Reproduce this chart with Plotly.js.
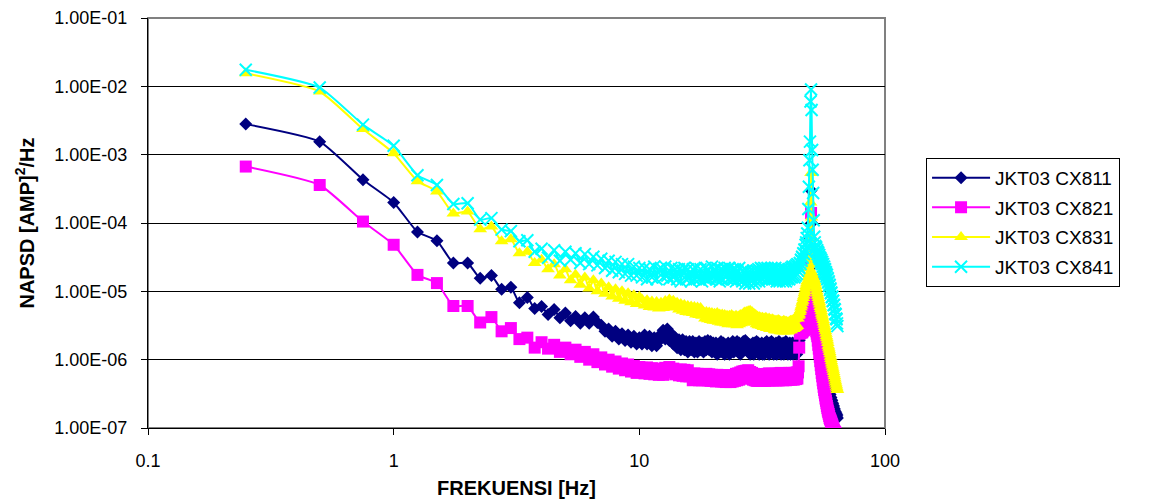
<!DOCTYPE html>
<html>
<head>
<meta charset="utf-8">
<script src="https://cdn.plot.ly/plotly-3.0.1.min.js"></script>
<style>html,body{margin:0;padding:0;background:#fff;}#chart{width:1152px;height:504px;}</style>
</head>
<body>
<div id="chart"></div>
<script>
// Frequency (Hz)
const freq = [
0.25,0.5,0.75,1,1.25,1.5,1.75,2,2.25,2.5,2.75,3,3.25,3.5,3.75,4,
4.25,4.5,4.75,5,5.25,5.5,5.75,6,6.25,6.5,6.75,7,7.25,7.5,7.75,8,
8.25,8.5,8.75,9,9.25,9.5,9.75,10,10.25,10.5,10.75,11,11.25,11.5,11.75,12,
12.25,12.5,12.75,13,13.25,13.5,13.75,14,14.25,14.5,14.75,15,15.25,15.5,15.75,16,
16.25,16.5,16.75,17,17.25,17.5,17.75,18,18.25,18.5,18.75,19,19.25,19.5,19.75,20,
20.25,20.5,20.75,21,21.25,21.5,21.75,22,22.25,22.5,22.75,23,23.25,23.5,23.75,24,
24.25,24.5,24.75,25,25.25,25.5,25.75,26,26.25,26.5,26.75,27,27.25,27.5,27.75,28,
28.25,28.5,28.75,29,29.25,29.5,29.75,30,30.25,30.5,30.75,31,31.25,31.5,31.75,32,
32.25,32.5,32.75,33,33.25,33.5,33.75,34,34.25,34.5,34.75,35,35.25,35.5,35.75,36,
36.25,36.5,36.75,37,37.25,37.5,37.75,38,38.25,38.5,38.75,39,39.25,39.5,39.75,40,
40.25,40.5,40.75,41,41.25,41.5,41.75,42,42.25,42.5,42.75,43,43.25,43.5,43.75,44,
44.25,44.5,44.75,45,45.25,45.5,45.75,46,46.25,46.5,46.75,47,47.25,47.5,47.75,48,
48.25,48.5,48.75,49,49.25,49.5,49.75,50,50.25,50.5,50.75,51,51.25,51.5,51.75,52,
52.25,52.5,52.75,53,53.25,53.5,53.75,54,54.25,54.5,54.75,55,55.25,55.5,55.75,56,
56.25,56.5,56.75,57,57.25,57.5,57.75,58,58.25,58.5,58.75,59,59.25,59.5,59.75,60,
60.25,60.5,60.75,61,61.25,61.5,61.75,62,62.25,62.5,62.75,63,63.25,63.5,63.75,64
];

const cx811 = [
2.8e-3,1.55e-3,4.3e-4,2.0e-4,7.4e-5,5.5e-5,2.6e-5,2.6e-5,1.55e-5,1.7e-5,1.07e-5,1.15e-5,6.8e-6,8.1e-6,5.6e-6,
6.0e-6,4.6e-6,5.4e-6,4.1e-6,4.8e-6,3.7e-6,4.3e-6,3.4e-6,4.1e-6,3.4e-6,4.2e-6,3.5e-6,3.2e-6,2.6e-6,2.8e-6,2.2e-6,2.6e-6,2.0e-6,2.4e-6,1.9e-6,2.3e-6,1.8e-6,2.2e-6,1.7e-6,2.1e-6,
1.7e-6,2.3e-6,1.7e-6,2.2e-6,1.6e-6,2.1e-6,1.6e-6,2.2e-6,
2.0e-6,2.7e-6,2.0e-6,2.8e-6,1.9e-6,2.4e-6,1.7e-6,2.1e-6,
1.5e-6,1.95e-6,1.4e-6,1.95e-6,1.4e-6,1.85e-6,1.3e-6,1.85e-6,
1.4e-6,1.85e-6,1.3e-6,1.75e-6,1.3e-6,1.85e-6,1.4e-6,1.75e-6,
1.3e-6,1.85e-6,1.4e-6,1.9e-6,1.4e-6,1.85e-6,1.3e-6,1.75e-6,
1.3e-6,1.75e-6,1.2e-6,1.65e-6,1.3e-6,1.85e-6,1.3e-6,1.75e-6,
1.2e-6,1.65e-6,1.3e-6,1.75e-6,1.2e-6,1.65e-6,1.3e-6,1.85e-6,
1.3e-6,1.75e-6,1.4e-6,1.85e-6,1.3e-6,1.75e-6,1.2e-6,1.65e-6,
1.3e-6,1.85e-6,1.4e-6,1.9e-6,1.4e-6,1.75e-6,1.3e-6,1.65e-6,
1.2e-6,1.65e-6,1.3e-6,1.75e-6,1.2e-6,1.75e-6,1.3e-6,1.85e-6,
1.3e-6,1.75e-6,1.2e-6,1.65e-6,1.3e-6,1.75e-6,1.2e-6,1.65e-6,
1.2e-6,1.75e-6,1.3e-6,1.85e-6,1.3e-6,1.65e-6,1.2e-6,1.75e-6,
1.3e-6,1.85e-6,1.4e-6,1.75e-6,1.2e-6,1.65e-6,1.3e-6,1.75e-6,
1.2e-6,1.65e-6,1.3e-6,1.85e-6,1.3e-6,1.75e-6,1.2e-6,1.65e-6,
1.3e-6,1.75e-6,1.2e-6,1.65e-6,1.3e-6,1.85e-6,1.3e-6,1.75e-6,
1.2e-6,1.65e-6,1.3e-6,1.75e-6,1.2e-6,1.65e-6,1.3e-6,1.75e-6,
1.2e-6,1.65e-6,1.3e-6,1.75e-6,1.3e-6,1.65e-6,1.2e-6,1.6e-6,
1.5e-6,1.7e-6,1.9e-6,
2.1e-6,2.2e-6,2.3e-6,2.4e-6,2.5e-6,2.6e-6,2.7e-6,2.8e-6,2.9e-6,3.0e-6,3.1e-6,3.3e-6,3.5e-6,3.8e-6,4.2e-6,5.0e-6,7.0e-6,1.2e-5,2.5e-5,6.0e-5,
3.0e-4,
1.0e-4,4.0e-5,3.5e-5,2.5e-5,1.5e-5,9.0e-6,6.0e-6,4.5e-6,
3.6e-6,3.0e-6,2.6e-6,2.3e-6,2.1e-6,1.9e-6,1.75e-6,1.6e-6,
1.5e-6,1.35e-6,1.3e-6,1.15e-6,1.1e-6,9.5e-7,9.2e-7,8.2e-7,
7.8e-7,6.9e-7,6.6e-7,5.8e-7,5.7e-7,5.0e-7,5.0e-7,4.4e-7,
4.4e-7,3.9e-7,3.9e-7,3.5e-7,3.5e-7,3.1e-7,3.1e-7,2.8e-7,
2.8e-7,2.5e-7,2.55e-7,2.2e-7,2.3e-7,2.0e-7,2.1e-7,1.8e-7,
1.9e-7,1.65e-7,1.75e-7,1.55e-7,1.65e-7,1.45e-7,1.55e-7,1.4e-7
];

const cx821 = [
6.7e-4,3.6e-4,1.05e-4,4.8e-5,1.74e-5,1.32e-5,6.1e-6,6.1e-6,3.5e-6,4.2e-6,2.6e-6,2.9e-6,2.0e-6,2.1e-6,1.5e-6,
1.8e-6,1.45e-6,1.65e-6,1.3e-6,1.5e-6,1.2e-6,1.4e-6,1.1e-6,1.3e-6,1.0e-6,1.2e-6,9.2e-7,1.08e-6,8.5e-7,1.0e-6,7.9e-7,9.4e-7,7.4e-7,8.8e-7,7.0e-7,8.5e-7,6.7e-7,8.1e-7,6.4e-7,7.8e-7,
7.6e-7,6.3e-7,7.7e-7,6.2e-7,7.5e-7,6.1e-7,7.4e-7,6.0e-7,
7.3e-7,6.0e-7,7.6e-7,6.8e-7,7.8e-7,6.5e-7,7.4e-7,6.1e-7,
7.1e-7,5.9e-7,7.2e-7,5.8e-7,7.1e-7,5.7e-7,7.0e-7,5.7e-7,
6.2e-7,5.0e-7,6.3e-7,5.1e-7,6.2e-7,5.0e-7,6.1e-7,5.0e-7,
6.1e-7,5.0e-7,6.2e-7,5.0e-7,6.1e-7,4.9e-7,6.0e-7,4.9e-7,
5.9e-7,4.8e-7,6.0e-7,4.9e-7,5.9e-7,4.8e-7,5.9e-7,4.8e-7,
5.9e-7,4.7e-7,5.9e-7,4.8e-7,5.9e-7,4.7e-7,5.9e-7,4.8e-7,
5.9e-7,4.9e-7,6.2e-7,5.0e-7,6.3e-7,5.1e-7,6.5e-7,5.3e-7,
6.7e-7,5.5e-7,6.8e-7,5.6e-7,6.9e-7,5.7e-7,7.0e-7,5.5e-7,
6.6e-7,5.3e-7,6.4e-7,5.1e-7,6.2e-7,5.0e-7,6.1e-7,4.9e-7,
6.0e-7,4.9e-7,6.1e-7,5.0e-7,6.0e-7,4.9e-7,6.1e-7,5.0e-7,
6.0e-7,4.9e-7,6.1e-7,5.0e-7,6.2e-7,5.0e-7,6.3e-7,5.0e-7,
6.1e-7,5.0e-7,6.2e-7,5.0e-7,6.1e-7,5.0e-7,6.2e-7,5.0e-7,
6.1e-7,5.0e-7,6.2e-7,5.0e-7,6.3e-7,5.1e-7,6.4e-7,5.1e-7,
6.2e-7,5.0e-7,6.3e-7,5.1e-7,6.2e-7,5.0e-7,6.3e-7,5.1e-7,
6.2e-7,5.1e-7,6.4e-7,5.2e-7,6.3e-7,5.1e-7,6.4e-7,5.2e-7,
6.3e-7,5.1e-7,6.4e-7,5.2e-7,6.4e-7,5.2e-7,6.5e-7,5.3e-7,
6.5e-7,8.0e-7,1.5e-6,
2.4e-6,2.5e-6,2.5e-6,2.6e-6,2.5e-6,2.6e-6,2.7e-6,2.7e-6,2.8e-6,2.9e-6,3.0e-6,3.1e-6,3.3e-6,3.5e-6,3.6e-6,3.8e-6,4.2e-6,6.0e-6,1.2e-5,3.5e-5,
1.4e-4,
3.0e-5,8.0e-6,5.0e-6,4.0e-6,3.6e-6,3.4e-6,3.2e-6,3.0e-6,
2.8e-6,2.6e-6,2.4e-6,2.2e-6,1.9e-6,1.65e-6,1.45e-6,1.25e-6,
1.1e-6,9.5e-7,8.3e-7,7.3e-7,6.4e-7,5.7e-7,5.0e-7,4.5e-7,
4.0e-7,3.6e-7,3.3e-7,3.0e-7,2.7e-7,2.5e-7,2.3e-7,2.1e-7,
1.95e-7,1.8e-7,1.7e-7,1.6e-7,1.5e-7,1.4e-7,1.35e-7,1.3e-7,
1.25e-7,1.2e-7,1.15e-7,1.1e-7,1.05e-7,1.0e-7,9.6e-8,9.3e-8,
9.0e-8,8.8e-8,8.6e-8,8.4e-8,8.2e-8,8.0e-8,7.9e-8,7.8e-8
];

const cx831 = [
1.55e-2,8.4e-3,2.37e-3,1.05e-3,4.1e-4,2.9e-4,1.38e-4,1.47e-4,8.1e-5,8.9e-5,5.4e-5,5.8e-5,3.6e-5,3.8e-5,2.6e-5,
2.9e-5,2.1e-5,2.5e-5,1.7e-5,2.1e-5,1.45e-5,1.75e-5,1.25e-5,1.6e-5,1.1e-5,1.45e-5,1.0e-5,1.3e-5,9.2e-6,1.15e-5,8.4e-6,1.07e-5,7.8e-6,1.0e-5,7.3e-6,9.4e-6,6.9e-6,8.8e-6,6.5e-6,8.3e-6,
7.6e-6,6.2e-6,7.4e-6,5.9e-6,7.1e-6,5.8e-6,7.0e-6,5.6e-6,
6.8e-6,5.7e-6,7.2e-6,5.9e-6,7.6e-6,6.1e-6,7.3e-6,5.8e-6,
6.8e-6,5.4e-6,6.5e-6,5.2e-6,6.3e-6,5.0e-6,6.1e-6,4.9e-6,
6.0e-6,4.8e-6,5.9e-6,4.6e-6,5.8e-6,4.5e-6,5.7e-6,4.4e-6,
5.0e-6,4.0e-6,5.0e-6,3.9e-6,4.9e-6,3.8e-6,4.8e-6,3.7e-6,
4.7e-6,3.7e-6,4.8e-6,3.6e-6,4.6e-6,3.5e-6,4.6e-6,3.5e-6,
4.5e-6,3.4e-6,4.4e-6,3.3e-6,4.4e-6,3.4e-6,4.5e-6,3.3e-6,
4.3e-6,3.3e-6,4.4e-6,3.2e-6,4.3e-6,3.3e-6,4.5e-6,3.4e-6,
4.6e-6,3.5e-6,4.9e-6,3.6e-6,5.0e-6,3.7e-6,5.1e-6,3.8e-6,
5.2e-6,3.9e-6,5.0e-6,3.7e-6,4.7e-6,3.5e-6,4.5e-6,3.3e-6,
4.3e-6,3.2e-6,4.2e-6,3.2e-6,4.1e-6,3.1e-6,4.1e-6,3.0e-6,
4.0e-6,3.0e-6,4.1e-6,2.9e-6,3.9e-6,2.9e-6,4.0e-6,2.8e-6,
3.8e-6,2.8e-6,3.9e-6,2.8e-6,3.8e-6,2.7e-6,3.7e-6,2.7e-6,
3.7e-6,2.7e-6,3.8e-6,2.7e-6,3.7e-6,2.6e-6,3.6e-6,2.6e-6,
3.6e-6,2.6e-6,3.7e-6,2.6e-6,3.6e-6,2.6e-6,3.6e-6,2.6e-6,
3.5e-6,2.6e-6,3.6e-6,2.7e-6,3.7e-6,2.7e-6,3.7e-6,2.8e-6,
3.8e-6,2.8e-6,3.9e-6,2.9e-6,4.0e-6,3.0e-6,4.1e-6,3.1e-6,
4.0e-6,4.4e-6,4.6e-6,
5.0e-6,5.3e-6,5.8e-6,6.2e-6,6.8e-6,7.3e-6,8.0e-6,8.6e-6,9.4e-6,1.0e-5,1.1e-5,1.2e-5,1.3e-5,1.4e-5,1.6e-5,1.8e-5,2.2e-5,3.0e-5,6.0e-5,2.0e-4,
5.4e-4,
1.2e-4,4.0e-5,2.4e-5,1.8e-5,1.6e-5,1.5e-5,1.4e-5,1.3e-5,
1.2e-5,1.1e-5,1.0e-5,9.3e-6,8.6e-6,8.0e-6,7.4e-6,6.9e-6,
6.4e-6,5.9e-6,5.5e-6,5.1e-6,4.7e-6,4.4e-6,4.1e-6,3.8e-6,
3.5e-6,3.25e-6,3.0e-6,2.8e-6,2.6e-6,2.4e-6,2.2e-6,2.05e-6,
1.9e-6,1.75e-6,1.6e-6,1.5e-6,1.4e-6,1.3e-6,1.2e-6,1.1e-6,
1.02e-6,9.5e-7,8.8e-7,8.2e-7,7.6e-7,7.1e-7,6.6e-7,6.1e-7,
5.7e-7,5.3e-7,4.9e-7,4.6e-7,4.3e-7,4.0e-7,3.8e-7,3.6e-7
];

const cx841 = [
1.75e-2,9.6e-3,2.75e-3,1.35e-3,5.0e-4,3.6e-4,1.9e-4,1.95e-4,1.12e-4,1.18e-4,8.0e-5,7.6e-5,5.4e-5,5.6e-5,3.8e-5,
4.2e-5,3.1e-5,4.0e-5,2.8e-5,3.8e-5,2.9e-5,3.6e-5,2.6e-5,3.5e-5,2.5e-5,3.2e-5,2.4e-5,3.0e-5,2.2e-5,2.8e-5,2.0e-5,2.7e-5,1.9e-5,2.5e-5,1.8e-5,2.5e-5,1.7e-5,2.3e-5,1.7e-5,2.2e-5,
1.6e-5,2.2e-5,1.5e-5,2.1e-5,1.6e-5,2.3e-5,1.5e-5,2.1e-5,
2.2e-5,1.6e-5,2.3e-5,1.7e-5,1.5e-5,2.2e-5,1.6e-5,2.1e-5,
1.5e-5,2.1e-5,1.4e-5,2.0e-5,2.2e-5,1.5e-5,2.1e-5,1.6e-5,
1.4e-5,2.1e-5,1.5e-5,2.2e-5,1.6e-5,1.5e-5,2.1e-5,1.4e-5,
1.6e-5,2.2e-5,1.5e-5,2.1e-5,1.5e-5,1.6e-5,2.3e-5,1.6e-5,
2.1e-5,1.5e-5,2.2e-5,1.6e-5,1.4e-5,2.1e-5,1.5e-5,2.0e-5,
2.2e-5,1.6e-5,2.1e-5,1.5e-5,2.2e-5,1.6e-5,1.5e-5,2.1e-5,
1.5e-5,2.1e-5,1.4e-5,2.0e-5,1.5e-5,2.2e-5,1.6e-5,1.5e-5,
1.4e-5,2.0e-5,1.5e-5,1.3e-5,2.0e-5,1.4e-5,1.9e-5,1.3e-5,
1.5e-5,1.9e-5,1.4e-5,2.0e-5,1.3e-5,1.9e-5,1.4e-5,2.0e-5,
1.5e-5,2.1e-5,1.4e-5,2.0e-5,2.2e-5,1.5e-5,2.1e-5,1.6e-5,
2.2e-5,1.6e-5,2.1e-5,1.5e-5,2.2e-5,1.6e-5,1.5e-5,2.1e-5,
1.6e-5,2.2e-5,1.5e-5,2.1e-5,1.6e-5,1.5e-5,2.2e-5,1.6e-5,
1.4e-5,2.0e-5,1.5e-5,2.1e-5,1.4e-5,2.0e-5,1.5e-5,2.1e-5,
1.5e-5,1.4e-5,2.0e-5,1.5e-5,2.1e-5,1.4e-5,2.0e-5,1.5e-5,
1.6e-5,2.1e-5,1.5e-5,2.0e-5,1.6e-5,2.2e-5,1.6e-5,2.3e-5,
1.7e-5,2.2e-5,1.6e-5,2.3e-5,1.7e-5,2.4e-5,1.8e-5,2.5e-5,
2.0e-5,2.3e-5,2.2e-5,
2.6e-5,2.5e-5,2.9e-5,2.8e-5,3.2e-5,3.1e-5,3.6e-5,3.5e-5,4.1e-5,4.0e-5,4.8e-5,5.2e-5,6.0e-5,7.0e-5,8.5e-5,1.6e-4,3.4e-4,8.3e-4,1.55e-3,6.0e-3,
9.0e-3,
4.5e-3,1.17e-3,6.0e-4,2.75e-4,1.1e-4,6.3e-5,5.2e-5,4.6e-5,
4.2e-5,4.4e-5,3.8e-5,4.0e-5,3.5e-5,3.7e-5,3.2e-5,3.4e-5,
3.0e-5,3.1e-5,2.7e-5,2.9e-5,2.5e-5,2.7e-5,2.3e-5,2.5e-5,
2.1e-5,2.3e-5,1.95e-5,2.1e-5,1.8e-5,1.9e-5,1.65e-5,1.75e-5,
1.5e-5,1.55e-5,1.35e-5,1.4e-5,1.2e-5,1.25e-5,1.05e-5,1.1e-5,
9.4e-6,9.6e-6,8.2e-6,8.4e-6,7.2e-6,7.3e-6,6.3e-6,6.3e-6,
5.5e-6,5.4e-6,4.7e-6,4.6e-6,4.0e-6,3.9e-6,3.4e-6,3.1e-6
];

const seriesNames = ['JKT03 CX811','JKT03 CX821','JKT03 CX831','JKT03 CX841'];
const xTickVals = [0.1, 1, 10, 100];
const xTickText = ['0.1', '1', '10', '100'];
const yTickVals = [1e-7, 1e-6, 1e-5, 1e-4, 1e-3, 1e-2, 1e-1];
const yTickText = ['1.00E-07','1.00E-06','1.00E-05','1.00E-04','1.00E-03','1.00E-02','1.00E-01'];
const xTitle = '<b>FREKUENSI [Hz]</b>';
const yTitle = '<b>NAPSD [AMP]<sup>2</sup>/Hz</b>';

const FONT = 'Liberation Sans, Arial, sans-serif';
const series = [cx811, cx821, cx831, cx841];
const colors = ['#000080', '#FF00FF', '#FFFF00', '#00FFFF'];
const symbols = ['diamond', 'square', 'triangle-up', 'x-thin'];
const sizes = [10, 12, 12, 12];

const traces = series.map((vals, i) => ({
  x: freq, y: vals, type: 'scatter', mode: 'lines+markers',
  name: seriesNames[i], legendgroup: 'g' + i,
  line: {color: colors[i], width: 2, shape: 'spline', smoothing: 0.5},
  marker: {symbol: symbols[i], size: sizes[i], color: colors[i],
           line: {color: colors[i], width: i === 3 ? 2 : 0}}
}));

const layout = {
  width: 1152, height: 504,
  margin: {l: 148, r: 267, t: 18, b: 76},
  paper_bgcolor: '#fff', plot_bgcolor: '#fff',
  font: {family: FONT, size: 18, color: '#000'},
  showlegend: true,
  xaxis: {
    type: 'log', range: [-1, 2], tickvals: xTickVals, ticktext: xTickText,
    ticks: 'outside', ticklen: 6, tickcolor: '#000', tickwidth: 1,
    showline: true, linecolor: '#000', linewidth: 1,
    showgrid: false, zeroline: false,
    tickfont: {family: FONT, size: 18, color: '#000'},
    ticklabelstandoff: 10,
    title: {text: xTitle, font: {family: FONT, size: 20, color: '#000'}, standoff: 11}
  },
  yaxis: {
    type: 'log', range: [-7, -1], tickvals: yTickVals, ticktext: yTickText,
    ticks: 'outside', ticklen: 6, tickcolor: '#000', tickwidth: 1,
    showline: true, linecolor: '#000', linewidth: 1,
    showgrid: true, gridcolor: '#000', gridwidth: 1, zeroline: false,
    tickfont: {family: FONT, size: 18, color: '#000'},
    ticklabelstandoff: 10,
    title: {text: yTitle, font: {family: FONT, size: 20, color: '#000'}, standoff: 14}
  },
  shapes: [{type: 'rect', xref: 'paper', yref: 'paper', x0: 0, x1: 1, y0: 0, y1: 1,
            line: {color: '#808080', width: 2}, layer: 'below'}],
  legend: {
    x: 1.0557, y: 0.659, xanchor: 'left', yanchor: 'top',
    bgcolor: '#fff', bordercolor: '#000', borderwidth: 1,
    font: {family: FONT, size: 19, color: '#000'},
    traceorder: 'grouped', tracegroupgap: 2, itemwidth: 58
  }
};

Plotly.newPlot('chart', traces, layout, {displayModeBar: false, staticPlot: true});
</script>
</body>
</html>
